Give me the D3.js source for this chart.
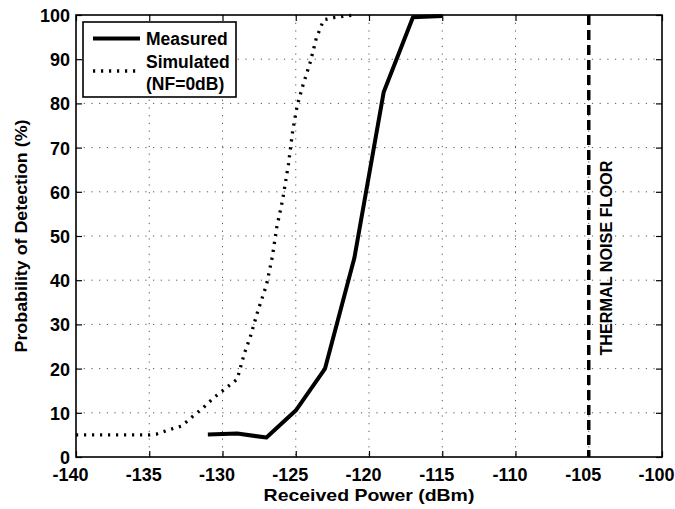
<!DOCTYPE html>
<html><head><meta charset="utf-8">
<script src="https://cdn.jsdelivr.net/npm/d3@7"></script>
<style>
body{margin:0;background:#fff}
text{font-family:"Liberation Sans",Arial,Helvetica,sans-serif;font-weight:bold;fill:#000}
</style>
</head><body>
<svg id="chart" width="675" height="509"></svg>
<script>
// ---- data ----
const xTickValues = [-140,-135,-130,-125,-120,-115,-110,-105,-100];
const yTickValues = [0,10,20,30,40,50,60,70,80,90,100];
const measuredPower = [-131,-129,-127,-125,-123,-121,-119,-117,-115];
const measuredPd    = [5.1,5.3,4.4,10.5,20,45,82.5,99.5,99.8];
const simulatedPower = [-140,-139,-138,-137,-136,-135,-134.5,-133.7,-132.8,-132.1,-131.3,-130.6,-129.8,-129.0,-128.5,-128.1,-127.6,-127.0,-126.6,-126.3,-125.9,-125.5,-125.2,-124.9,-124.5,-124.0,-123.6,-123.1,-122.4,-121.5,-121.0];
const simulatedPd    = [5,5,5,5,5,5,5.2,6.1,7,9,11.2,13.4,15.5,17.6,23.5,27.2,32.9,38.9,45.3,51.9,58.1,66.2,74,79.5,84.2,89.4,94.7,98.9,99.4,99.8,100];
const noiseFloor = -105;
const legendLabels = ["Measured","Simulated","(NF=0dB)"];
const xLabel = "Received Power (dBm)";
const yLabel = "Probability of Detection (%)";
const floorLabel = "THERMAL NOISE FLOOR";

// ---- layout ----
const L=76, R=662, T=15, B=457;
const svg = d3.select("#chart");
const x = d3.scaleLinear().domain([-140,-100]).range([L,R]);
const y = d3.scaleLinear().domain([0,100]).range([B,T]);
const fmt = d => String(d);

// grid
const g = svg.append("g");
g.selectAll(".vg").data(xTickValues.slice(1,-1)).enter().append("line")
  .attr("x1",d=>x(d)).attr("x2",d=>x(d)).attr("y1",T).attr("y2",B)
  .attr("stroke","#555").attr("stroke-width",1).attr("stroke-dasharray","1.2,6.5");
g.selectAll(".hg").data(yTickValues.slice(1,-1)).enter().append("line")
  .attr("y1",d=>y(d)).attr("y2",d=>y(d)).attr("x1",L).attr("x2",R)
  .attr("stroke","#555").attr("stroke-width",1).attr("stroke-dasharray","1.2,6.5");

// axes with inside ticks
const tk = 6;
const xb = svg.append("g").attr("transform",`translate(0,${B})`)
  .call(d3.axisBottom(x).tickValues(xTickValues).tickSizeInner(-tk).tickSizeOuter(0).tickPadding(11).tickFormat(fmt));
const xt = svg.append("g").attr("transform",`translate(0,${T})`)
  .call(d3.axisTop(x).tickValues(xTickValues).tickSizeInner(-tk).tickSizeOuter(0).tickFormat(""));
const yl = svg.append("g").attr("transform",`translate(${L},0)`)
  .call(d3.axisLeft(y).tickValues(yTickValues).tickSizeInner(-tk).tickSizeOuter(0).tickPadding(6).tickFormat(fmt));
const yr = svg.append("g").attr("transform",`translate(${R},0)`)
  .call(d3.axisRight(y).tickValues(yTickValues).tickSizeInner(-tk).tickSizeOuter(0).tickFormat(""));
[xb,xt,yl,yr].forEach(a=>{
  a.selectAll("path.domain").remove();
  a.selectAll("line").attr("stroke","#000").attr("stroke-width",1.2);
  a.selectAll("text").style("font-size","18px").attr("fill","#000");
});
xb.selectAll("text").attr("dy","0.7em").attr("x",-6);
yl.selectAll("text").attr("dy","0.36em");
// box
svg.append("rect").attr("x",L).attr("y",T).attr("width",R-L).attr("height",B-T)
  .attr("fill","none").attr("stroke","#000").attr("stroke-width",1.6);

// clip
svg.append("clipPath").attr("id","clip").append("rect").attr("x",L).attr("y",T-3).attr("width",R-L).attr("height",B-T+6);

const line = d3.line().x(d=>x(d[0])).y(d=>y(d[1]));
const sim = simulatedPower.map((p,i)=>[p,simulatedPd[i]]);
const meas = measuredPower.map((p,i)=>[p,measuredPd[i]]);

svg.append("path").datum(sim).attr("d",line).attr("clip-path","url(#clip)")
  .attr("fill","none").attr("stroke","#000").attr("stroke-width",3.3).attr("stroke-dasharray","2.2,5.8");
svg.append("path").datum(meas).attr("d",line).attr("clip-path","url(#clip)")
  .attr("fill","none").attr("stroke","#000").attr("stroke-width",4).attr("stroke-linejoin","round");

// noise floor line
svg.append("line").attr("x1",x(noiseFloor)).attr("x2",x(noiseFloor)).attr("y1",T).attr("y2",B)
  .attr("stroke","#000").attr("stroke-width",3.5).attr("stroke-dasharray","10,5");
svg.append("text").attr("transform",`translate(${612},${y(45)}) rotate(-90)`)
  .attr("text-anchor","middle").style("font-size","16.2px").text(floorLabel);

// axis labels
svg.append("text").attr("transform",`translate(${(L+R)/2},501) scale(1.18,1)`)
  .attr("text-anchor","middle").style("font-size","16.5px").text(xLabel);
svg.append("text").attr("transform",`translate(27,${(T+B)/2}) rotate(-90) scale(1.05,1)`)
  .attr("text-anchor","middle").style("font-size","17px").text(yLabel);

// legend
const lg = svg.append("g");
lg.append("rect").attr("x",83).attr("y",22).attr("width",153).attr("height",75)
  .attr("fill","#fff").attr("stroke","#000").attr("stroke-width",1.6);
lg.append("line").attr("x1",93).attr("x2",140).attr("y1",38.5).attr("y2",38.5)
  .attr("stroke","#000").attr("stroke-width",4);
lg.append("line").attr("x1",93).attr("x2",140).attr("y1",71).attr("y2",71)
  .attr("stroke","#000").attr("stroke-width",3.3).attr("stroke-dasharray","2.2,5.8");
const ly = [45,68,90];
legendLabels.forEach((t,i)=>{
  lg.append("text").attr("x",146).attr("y",ly[i]).style("font-size","17.5px").text(t);
});
</script>
</body></html>
